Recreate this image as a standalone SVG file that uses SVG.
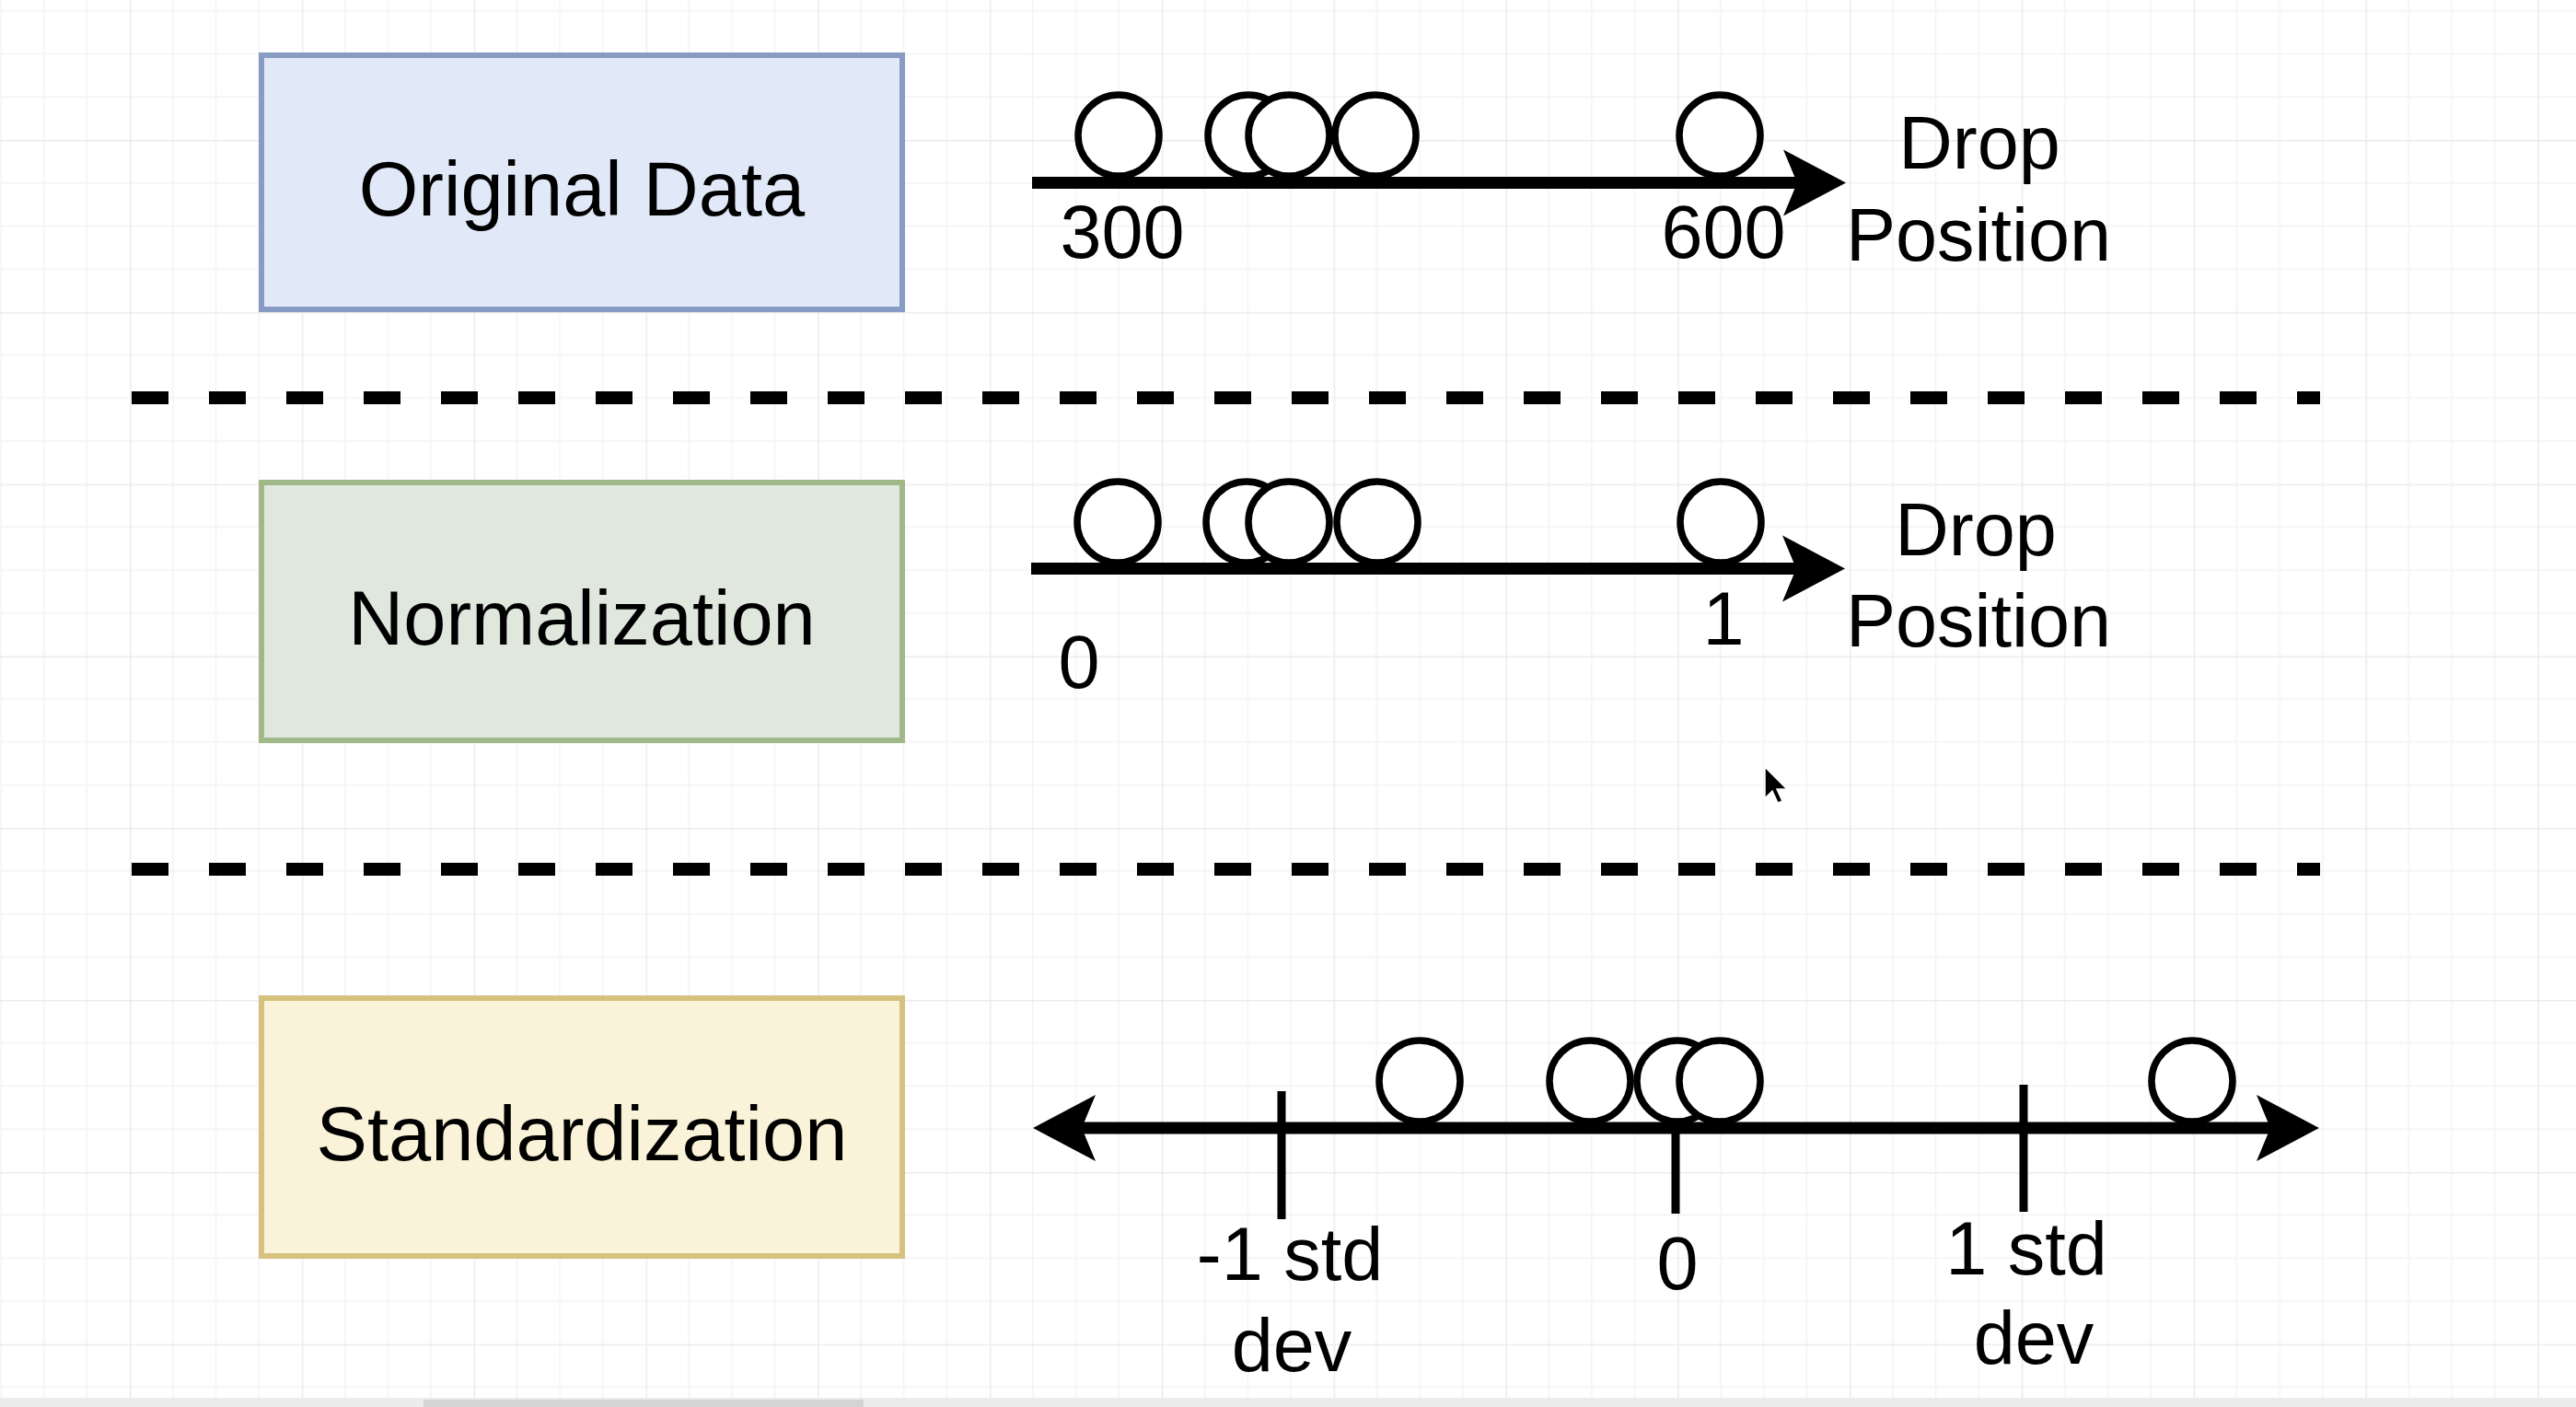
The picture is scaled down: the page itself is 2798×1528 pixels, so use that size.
<svg xmlns="http://www.w3.org/2000/svg" width="2798" height="1528" viewBox="0 0 2798 1528">
<style>
.lbl{font-family:"Liberation Sans",Arial,Helvetica,sans-serif;font-size:81px;fill:#000;text-anchor:middle}
.box{font-family:"Liberation Sans",Arial,Helvetica,sans-serif;font-size:83px;fill:#000;text-anchor:middle}
.dot{fill:#fff;stroke:#000;stroke-width:7.5}
.axis{stroke:#000;stroke-width:13;fill:none}
.tick{stroke:#000;stroke-width:9}
.sep{stroke:#000;stroke-width:14;stroke-dasharray:40 44}
</style>
<defs>
<pattern id="grid" x="141" y="152" width="186.8" height="186.8" patternUnits="userSpaceOnUse">
<path d="M46.7,0V186.8M93.4,0V186.8M140.1,0V186.8M0,46.7H186.8M0,93.4H186.8M0,140.1H186.8" stroke="#f5f5f5" stroke-width="2" fill="none"/>
<path d="M0.5,0V186.8M0,0.5H186.8" stroke="#ebebeb" stroke-width="2" fill="none"/>
</pattern>
<marker id="arr" markerUnits="userSpaceOnUse" markerWidth="70" markerHeight="74" refX="15" refY="37" orient="auto-start-reverse">
<path d="M0,1L68,37L0,73L15,37Z" fill="#000"/>
</marker>
</defs>
<rect width="2798" height="1528" fill="#fff"/>
<rect width="2798" height="1528" fill="url(#grid)"/>

<g id="node-original">
<rect x="284" y="60" width="696" height="276" fill="#e1e9f8" stroke="#889bc2" stroke-width="6"/>
<text class="box" x="632" y="234">Original Data</text>
</g>
<g id="node-normalization">
<rect x="284" y="524" width="696" height="280" fill="#e0e8dd" stroke="#a1b889" stroke-width="6"/>
<text class="box" x="632" y="700">Normalization</text>
</g>
<g id="node-standardization">
<rect x="284" y="1084" width="696" height="280" fill="#fbf3d9" stroke="#d7c17f" stroke-width="6"/>
<text class="box" x="632" y="1260">Standardization</text>
</g>

<g id="separators">
<line class="sep" x1="143" y1="432" x2="2520" y2="432"/>
<line class="sep" x1="143" y1="944" x2="2520" y2="944"/>
</g>

<g id="connectors">
<line class="axis" x1="1121" y1="198.5" x2="1952" y2="198.5" marker-end="url(#arr)"/>
<line class="axis" x1="1120" y1="617.5" x2="1951" y2="617.5" marker-end="url(#arr)"/>
<line class="axis" x1="1175" y1="1225" x2="2466" y2="1225" marker-start="url(#arr)" marker-end="url(#arr)"/>
<line class="tick" x1="1392" y1="1185" x2="1392" y2="1324"/>
<line class="tick" x1="1820" y1="1225" x2="1820" y2="1318"/>
<line class="tick" x1="2198" y1="1178" x2="2198" y2="1316"/>
</g>

<g id="row1-points">
<circle class="dot" cx="1215" cy="147" r="44"/>
<circle class="dot" cx="1356" cy="147" r="44"/>
<circle class="dot" cx="1400" cy="147" r="44"/>
<circle class="dot" cx="1494" cy="147" r="44"/>
<circle class="dot" cx="1868" cy="147" r="44"/>
</g>
<g id="row1-labels">
<text class="lbl" x="1219" y="280">300</text>
<text class="lbl" x="1872" y="280">600</text>
<text class="lbl" x="2150" y="183">Drop</text>
<text class="lbl" x="2149" y="283">Position</text>
</g>

<g id="row2-points">
<circle class="dot" cx="1214" cy="567" r="44"/>
<circle class="dot" cx="1354" cy="567" r="44"/>
<circle class="dot" cx="1400" cy="567" r="44"/>
<circle class="dot" cx="1496" cy="567" r="44"/>
<circle class="dot" cx="1869" cy="567" r="44"/>
</g>
<g id="row2-labels">
<text class="lbl" x="1172" y="747">0</text>
<text class="lbl" x="1872" y="700">1</text>
<text class="lbl" x="2146" y="603">Drop</text>
<text class="lbl" x="2149" y="702">Position</text>
</g>

<g id="row3-points">
<circle class="dot" cx="1542" cy="1174" r="44"/>
<circle class="dot" cx="1727" cy="1174" r="44"/>
<circle class="dot" cx="1822" cy="1174" r="44"/>
<circle class="dot" cx="1868" cy="1174" r="44"/>
<circle class="dot" cx="2381" cy="1174" r="44"/>
</g>
<g id="row3-labels">
<text class="lbl" x="1401" y="1390">-1 std</text>
<text class="lbl" x="1403" y="1489">dev</text>
<text class="lbl" x="1822" y="1400">0</text>
<text class="lbl" x="2201" y="1384">1 std</text>
<text class="lbl" x="2209" y="1481">dev</text>
</g>

<path d="M1917,833L1917,867L1925,859L1931,872L1936,870L1930,857L1941,857Z" fill="#000" stroke="#fff" stroke-width="1.5"/>
<rect x="0" y="1518" width="2798" height="10" fill="#ececec"/>
<rect x="460" y="1520" width="478" height="8" fill="#d4d4d4"/>
</svg>
